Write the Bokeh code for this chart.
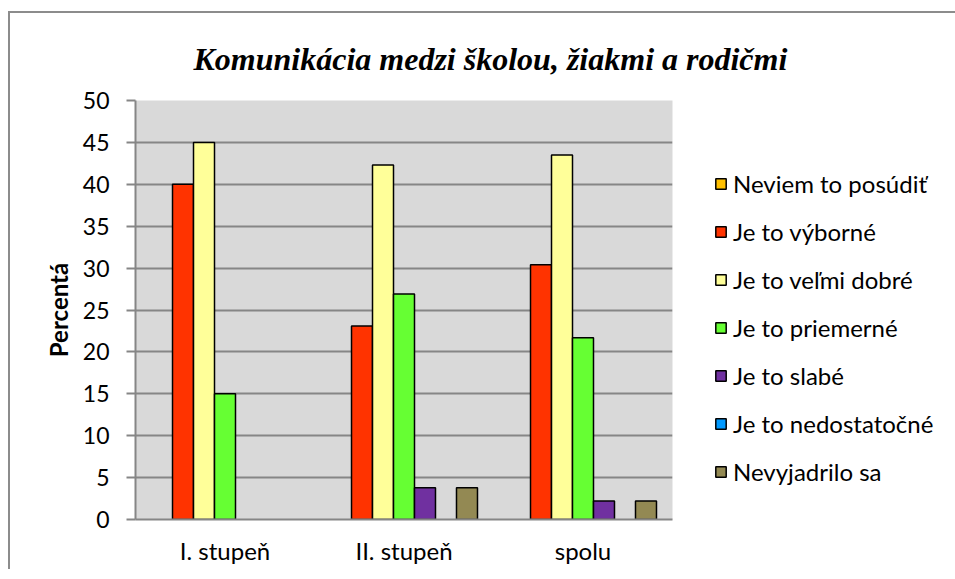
from bokeh.plotting import figure
from bokeh.models import FactorRange, Range1d, Legend, LegendItem, FixedTicker, ColumnDataSource
from bokeh.transform import dodge
from bokeh.embed import file_html
from bokeh.resources import INLINE

categories = ["I. stupeň", "II. stupeň", "spolu"]
series_names = ["Neviem to posúdiť", "Je to výborné", "Je to veľmi dobré",
                "Je to priemerné", "Je to slabé", "Je to nedostatočné", "Nevyjadrilo sa"]
neviem = [0, 0, 0]
vyborne = [40, 23.1, 30.4]
velmi_dobre = [45, 42.3, 43.5]
priemerne = [15, 26.9, 21.7]
slabe = [0, 3.8, 2.2]
nedostatocne = [0, 0, 0]
nevyjadrilo = [0, 3.8, 2.2]
series_values = [neviem, vyborne, velmi_dobre, priemerne, slabe, nedostatocne, nevyjadrilo]
colors = ["#FFC000", "#FF3300", "#FFFF99", "#66FF33", "#7030A0", "#0099FF", "#938953"]
yticks = [0, 5, 10, 15, 20, 25, 30, 35, 40, 45, 50]

FONT = "Lato"

p = figure(x_range=FactorRange(*categories, range_padding=0, factor_padding=0),
           y_range=Range1d(0, 50), frame_width=537, frame_height=419,
           output_backend="svg", toolbar_location=None,
           min_border_left=135, min_border_right=0, min_border_top=100, min_border_bottom=50)

p.border_fill_alpha = 0
p.styles = {
    "background": ("linear-gradient(#8C8C8C, #8C8C8C) 8px 11px / 2px 100% no-repeat, "
                   "linear-gradient(#8C8C8C, #8C8C8C) 8px 11px / 100% 2px no-repeat, white"),
}

p.title.text = "Komunikácia medzi školou, žiakmi a rodičmi"
p.title.align = "left"
p.title.offset = 58
p.title.standoff = 48
p.title.text_font = "Liberation Serif"
p.title.text_font_style = "bold italic"
p.title.text_font_size = "32px"
p.title.text_color = "black"

p.background_fill_color = "#D9D9D9"
p.outline_line_color = None
p.xgrid.visible = False
p.ygrid.grid_line_color = "#868686"
p.ygrid.grid_line_width = 2

bar_w = 0.1173
items = []
n = len(series_names)
for i, (name, vals, col) in enumerate(zip(series_names, series_values, colors)):
    tops = [v if v > 0 else float("nan") for v in vals]
    src = ColumnDataSource(dict(cat=categories, top=tops))
    r = p.vbar(x=dodge("cat", (i - (n - 1) / 2) * bar_w, range=p.x_range), top="top", bottom=0,
               width=bar_w, source=src, fill_color=col, line_color="black", line_width=1.5)
    items.append(LegendItem(label=name, renderers=[r]))

legend = Legend(items=items, location=(42, 33), padding=0, margin=0,
                border_line_color=None, background_fill_alpha=0,
                glyph_width=13, glyph_height=13, label_standoff=6,
                label_text_font=FONT, label_text_font_size="24px", label_height=20,
                label_text_color="black", spacing=19)
p.add_layout(legend, "right")

p.yaxis.ticker = FixedTicker(ticks=yticks)
p.yaxis.axis_label = "Percentá"
p.yaxis.axis_label_text_font = FONT
p.yaxis.axis_label_text_font_style = "bold"
p.yaxis.axis_label_text_font_size = "24px"
p.yaxis.axis_label_text_color = "black"
p.yaxis.axis_label_standoff = 7
p.yaxis.major_label_text_font = FONT
p.yaxis.major_label_text_font_size = "23px"
p.yaxis.major_label_text_color = "black"
p.yaxis.major_label_standoff = 17
p.yaxis.axis_line_color = "#868686"
p.yaxis.axis_line_width = 2
p.yaxis.major_tick_line_color = "#868686"
p.yaxis.major_tick_line_width = 2
p.yaxis.major_tick_out = 9
p.yaxis.major_tick_in = 0
p.yaxis.minor_tick_line_color = None

p.xaxis.major_label_text_font = FONT
p.xaxis.major_label_text_font_size = "24px"
p.xaxis.major_label_text_color = "black"
p.xaxis.major_label_standoff = 10
p.xaxis.axis_line_color = "#868686"
p.xaxis.axis_line_width = 2
p.xaxis.major_tick_line_color = None
p.xaxis.minor_tick_line_color = None

open("out.html", "w").write(file_html(p, INLINE))
